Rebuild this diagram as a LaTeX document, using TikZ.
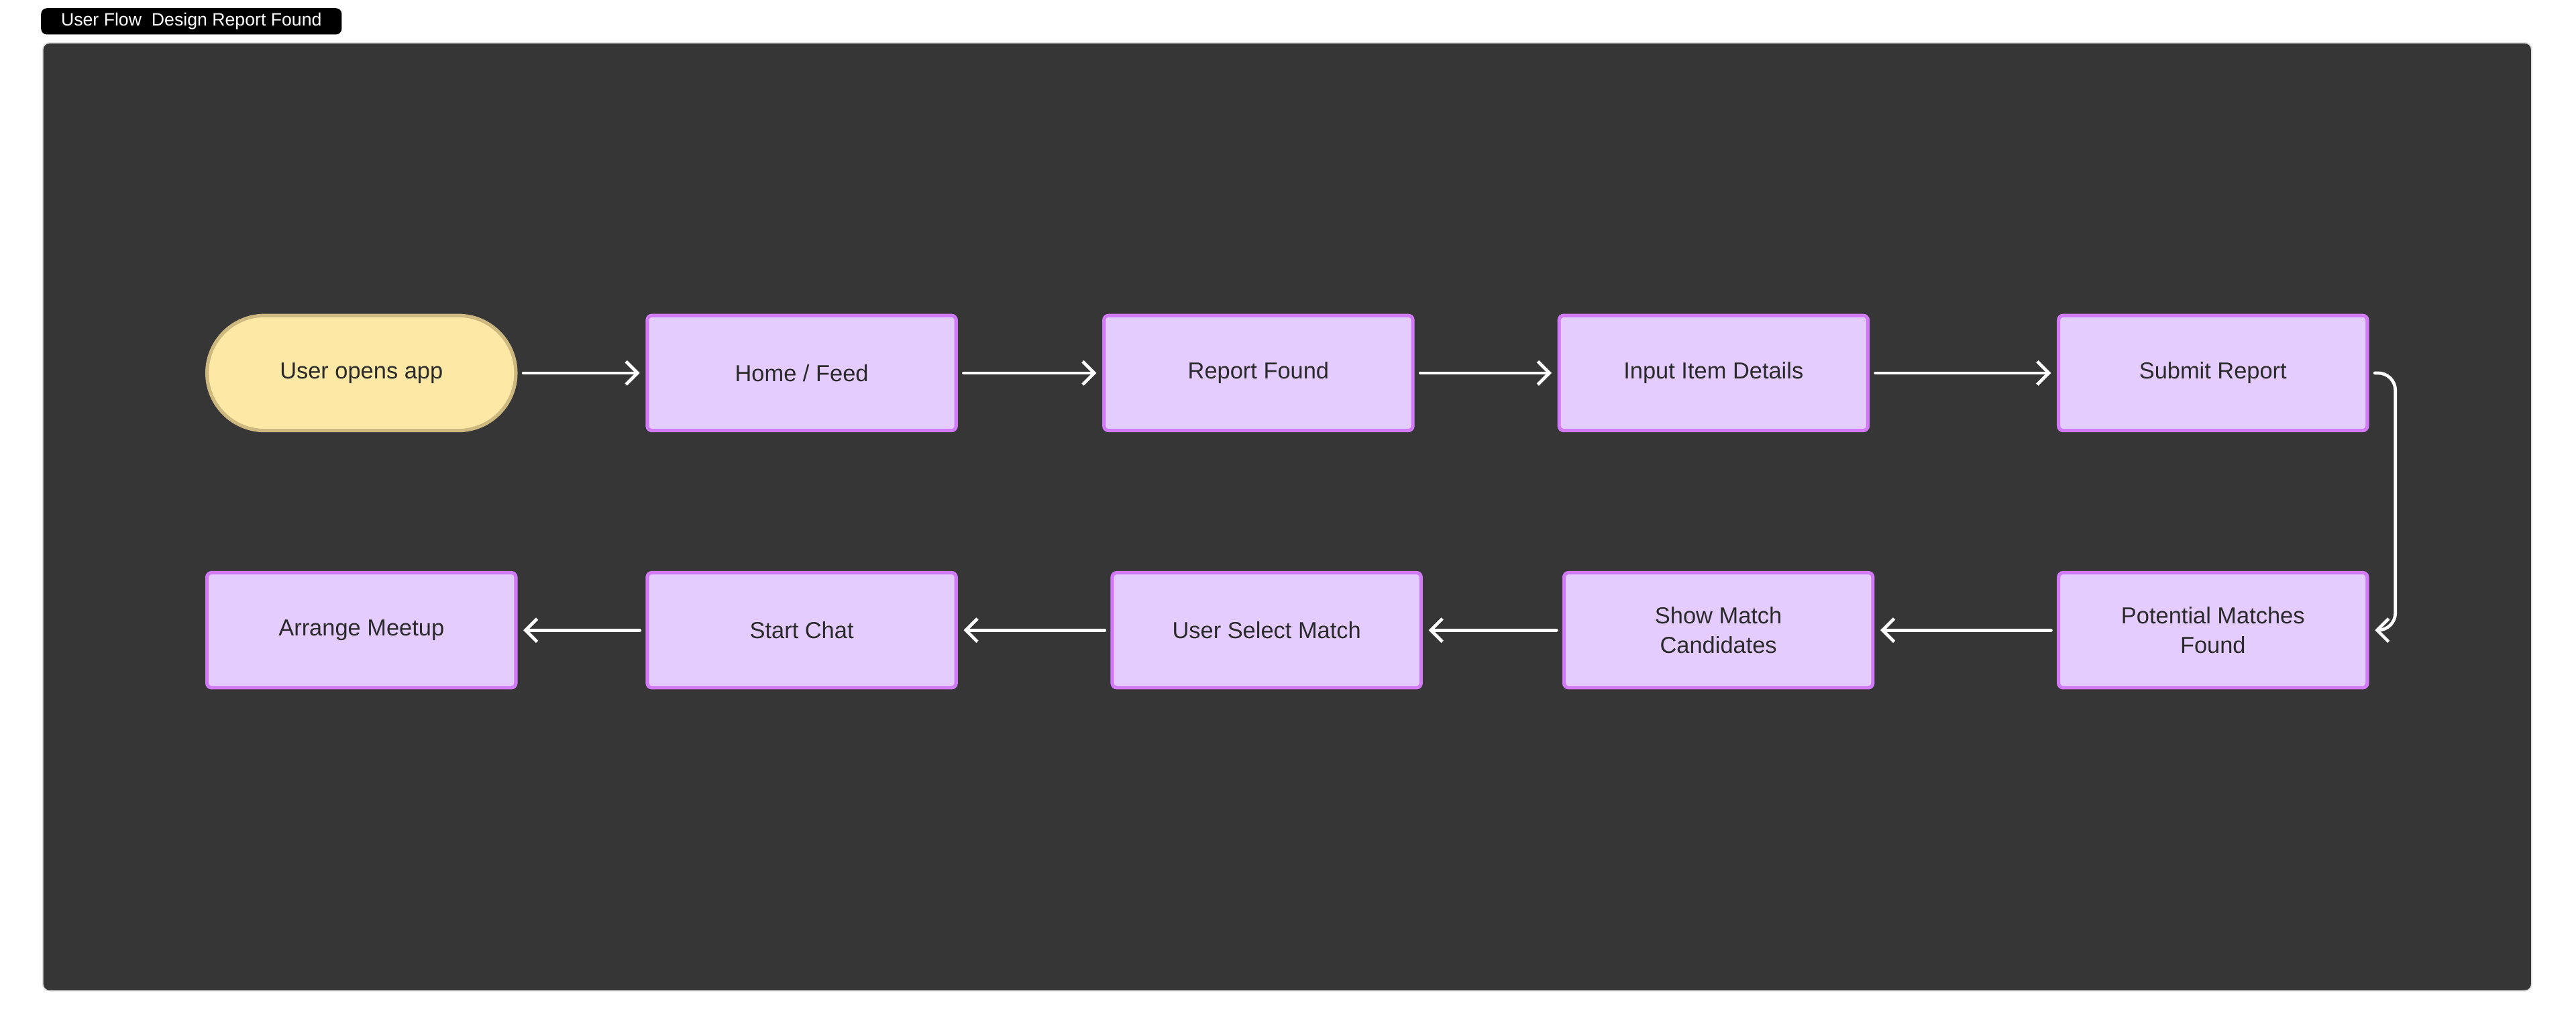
\documentclass[tikz,border=0pt]{standalone}
\usepackage{fontspec}
\setmainfont{Liberation Sans}
\usetikzlibrary{arrows.meta}
\definecolor{panel}{HTML}{363636}
\definecolor{boxfill}{HTML}{E5CCFF}
\definecolor{boxline}{HTML}{D279F7}
\definecolor{startfill}{HTML}{FDE8A6}
\definecolor{startline}{HTML}{CDB97F}
\definecolor{ink}{HTML}{2A2A2A}
\tikzset{
  step box/.style={draw=boxline, fill=boxfill, line width=6pt, rounded corners=8pt,
    minimum width=18.8cm, minimum height=7cm, align=center, text=ink,
    font=\fontsize{40}{50}\selectfont},
  start box/.style={step box, draw=startline, fill=startfill, rounded corners=3.5cm},
  flow/.style={white, line width=5.5pt, line cap=round,
    -{Straight Barb[length=20pt, width=40pt, line width=5.5pt]}, shorten <=10pt, shorten >=10pt}
}
\begin{document}
\begin{tikzpicture}[x=0.1cm, y=-0.1cm]
   \useasboundingbox (0,0) rectangle (1568,629);
   \fill[white] (0,0) rectangle (1568,629);

   % panel and title
   \draw[fill=panel, draw=black!12, line width=2pt, rounded corners=12pt] (26,26) rectangle (1541,603);
   \node[fill=black, text=white, rounded corners=10pt, minimum width=18.3cm, minimum height=1.6cm,
         font=\fontsize{31}{36}\selectfont] (title) at (116.5,13) {User Flow\ \ Design Report Found};

   % top row
   \node[start box] (open)   at (220,227)  {User opens app};
   \node[step box]  (home)   at (488,227)  {Home / Feed};
   \node[step box]  (report) at (766,227)  {Report Found};
   \node[step box]  (input)  at (1043,227) {Input Item Details};
   \node[step box]  (submit) at (1347,227) {Submit Report};

   % bottom row
   \node[step box] (matches) at (1347,383.5) {Potential Matches\\Found};
   \node[step box] (show)    at (1046,383.5) {Show Match\\Candidates};
   \node[step box] (select)  at (771,383.5)  {User Select Match};
   \node[step box] (chat)    at (488,383.5)  {Start Chat};
   \node[step box] (meetup)  at (220,383.5)  {Arrange Meetup};

   \draw[flow] (open) -- (home);
   \draw[flow] (home) -- (report);
   \draw[flow] (report) -- (input);
   \draw[flow] (input) -- (submit);
   \draw[flow, rounded corners=30pt] (submit.east) -- ++(16,0) |- (matches.east);
   \draw[flow] (matches) -- (show);
   \draw[flow] (show) -- (select);
   \draw[flow] (select) -- (chat);
   \draw[flow] (chat) -- (meetup);
\end{tikzpicture}
\end{document}
